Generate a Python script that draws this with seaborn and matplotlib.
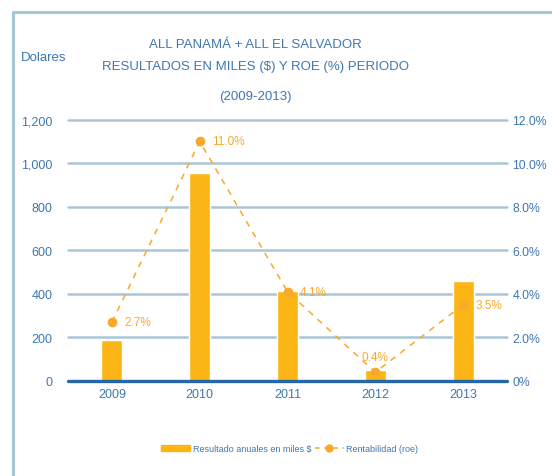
import numpy as np
import pandas as pd
import matplotlib.pyplot as plt
import matplotlib.patches as mpatches
import matplotlib.lines as mlines
import seaborn as sns

# Data
years = ['2009', '2010', '2011', '2012', '2013']
resultados = [190, 955, 415, 50, 460]      # miles $
roe = [2.7, 11.0, 4.1, 0.4, 3.5]            # %
roe_labels = ['2.7%', '11.0%', '4.1%', '0.4%', '3.5%']
left_ticks = [0, 200, 400, 600, 800, 1000, 1200]
left_ticklabels = ['0', '200', '400', '600', '800', '1,000', '1,200']
right_ticks = [0, 2, 4, 6, 8, 10, 12]
right_ticklabels = ['0%', '2.0%', '4.0%', '6.0%', '8.0%', '10.0%', '12.0%']

BAR = '#FBB515'
LINE = '#F7AA2A'
TXT = '#3F77B0'
GRID = '#A9C6D8'
ZERO = '#2566A8'

sns.set_theme(style='white')
plt.rcParams['font.family'] = ['Liberation Sans', 'DejaVu Sans']

df = pd.DataFrame({'year': years, 'res': resultados, 'roe': roe})

fig = plt.figure(figsize=(5.52, 4.77), dpi=100)
ax = fig.add_axes([0.1232, 0.1992, 0.7953, 0.5478])

# light frame around the chart (left and top edges only visible)
fig.add_artist(mlines.Line2D([0.024, 0.024], [0, 0.973], color=GRID, lw=2.2, transform=fig.transFigure))
fig.add_artist(mlines.Line2D([0.024, 1.0], [0.973, 0.973], color=GRID, lw=2.2, transform=fig.transFigure))

for t in left_ticks[1:]:
    ax.axhline(t, color=GRID, lw=1.8, zorder=0, clip_on=False)

sns.barplot(data=df, x='year', y='res', color=BAR, width=0.24, saturation=1, ax=ax, zorder=2)
ax.axhline(0, color=ZERO, lw=2.4, zorder=3, clip_on=False)
ax.set_xlim(-0.5, 4.5)
ax.set_ylim(0, 1200)
ax.set_yticks(left_ticks)
ax.set_yticklabels(left_ticklabels)
ax.set_xlabel('')
ax.set_ylabel('')
for s in ax.spines.values():
    s.set_visible(False)
ax.tick_params(axis='both', length=0, colors=TXT, labelsize=9)
ax.tick_params(axis='y', pad=11)
ax.tick_params(axis='x', pad=5)

ax2 = ax.twinx()
sns.lineplot(x=np.arange(len(years)), y=roe, ax=ax2, color=LINE, lw=1.1,
             linestyle=(0, (4, 4)), marker='o', markersize=7, markeredgewidth=0, zorder=4)
ax2.set_ylim(0, 12)
ax2.set_yticks(right_ticks)
ax2.set_yticklabels(right_ticklabels)
for s in ax2.spines.values():
    s.set_visible(False)
ax2.tick_params(axis='y', length=0, colors=TXT, labelsize=8.8, pad=4)
ax2.grid(False)

for i, (v, lab) in enumerate(zip(roe, roe_labels)):
    if lab == '0.4%':
        ax2.annotate(lab, (i, v), xytext=(0, 7), textcoords='offset points',
                     ha='center', va='bottom', color=LINE, fontsize=8.5)
    else:
        ax2.annotate(lab, (i, v), xytext=(9, 0), textcoords='offset points',
                     ha='left', va='center', color=LINE, fontsize=8.5)

# titles
fig.text(0.462, 0.905, 'ALL PANAMÁ + ALL EL SALVADOR', ha='center', va='center', color=TXT, fontsize=9.5)
fig.text(0.462, 0.859, 'RESULTADOS EN MILES ($) Y ROE (%) PERIODO', ha='center', va='center', color=TXT, fontsize=9.5)
fig.text(0.462, 0.796, '(2009-2013)', ha='center', va='center', color=TXT, fontsize=9.5)
fig.text(0.038, 0.879, 'Dolares', ha='left', va='center', color=TXT, fontsize=9.5)

# legend
h_bar = mpatches.Patch(color=BAR, label='Resultado anuales en miles $')
h_line = mlines.Line2D([], [], color=LINE, lw=1.1, linestyle=(0, (3, 3)), marker='o',
                       markersize=6, markeredgewidth=0, label='Rentabilidad (roe)')
fig.legend(handles=[h_bar, h_line], loc='center', bbox_to_anchor=(0.525, 0.057), ncol=2,
           frameon=False, fontsize=6.5, labelcolor=TXT, handlelength=3.2,
           handletextpad=0.3, columnspacing=0.4)

fig.savefig('out.png', dpi=100)
